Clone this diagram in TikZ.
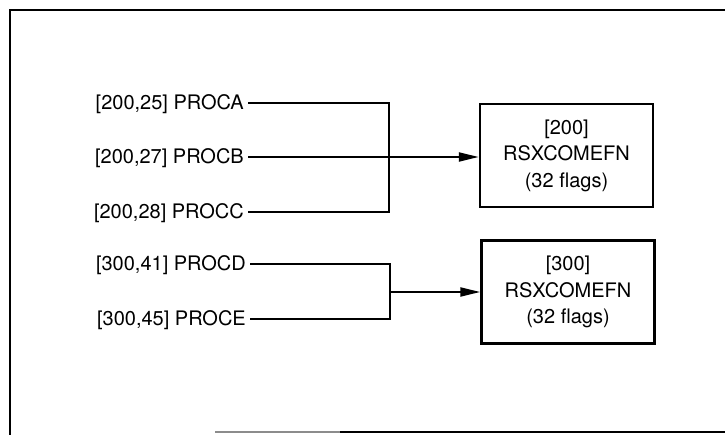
\documentclass[tikz,border=0pt]{standalone}
\usepackage{fontspec}
\setmainfont{TeX Gyre Heros}
\usetikzlibrary{arrows.meta}
\begin{document}
\begin{tikzpicture}[x=1pt,y=-1pt,
  proc/.style={anchor=east,inner xsep=4pt,inner ysep=0pt,text height=14pt,text depth=0pt,font=\fontsize{20}{24}\selectfont},
  flagbox/.style={draw,line width=2.5pt,minimum width=173pt,minimum height=103pt,align=center,inner sep=0pt,font=\fontsize{20}{26.5}\selectfont},
  wire/.style={line width=2.3pt},
  arr/.style={wire,-{Triangle[length=20pt,width=9pt]}}]
\useasboundingbox (0,0) rectangle (725,435);
% frame
\draw[line width=2.4pt] (725,10) -- (10,10) -- (10,435);
\draw[line width=2pt,black!45] (215,432) -- (340,432);
\draw[line width=2.4pt] (340,432) -- (725,432);
% sources
\node[proc] (pa) at (248,103) {[200,25] PROCA};
\node[proc] (pb) at (248,157) {[200,27] PROCB};
\node[proc] (pc) at (248,212) {[200,28] PROCC};
\node[proc] (pd) at (250,264) {[300,41] PROCD};
\node[proc] (pe) at (250,319) {[300,45] PROCE};
% boxes
\node[flagbox] (b1) at (566.5,155.5) {[200]\\RSXCOMEFN\\(32 flags)};
\node[flagbox] (b2) at (568,292) {[300]\\RSXCOMEFN\\(32 flags)};
% junctions
\coordinate (j1) at (389,0);
\coordinate (j2) at (390,0);
\draw[wire] (pa.east) -- (pa.east -| j1) -- (pc.east -| j1) -- (pc.east);
\draw[arr] (pb.east) -- (pb.east -| b1.west);
\draw[wire] (pd.east) -- (pd.east -| j2) -- (pe.east -| j2) -- (pe.east);
\draw[arr] (j2 |- b2.west) -- (b2.west);
\end{tikzpicture}
\end{document}
